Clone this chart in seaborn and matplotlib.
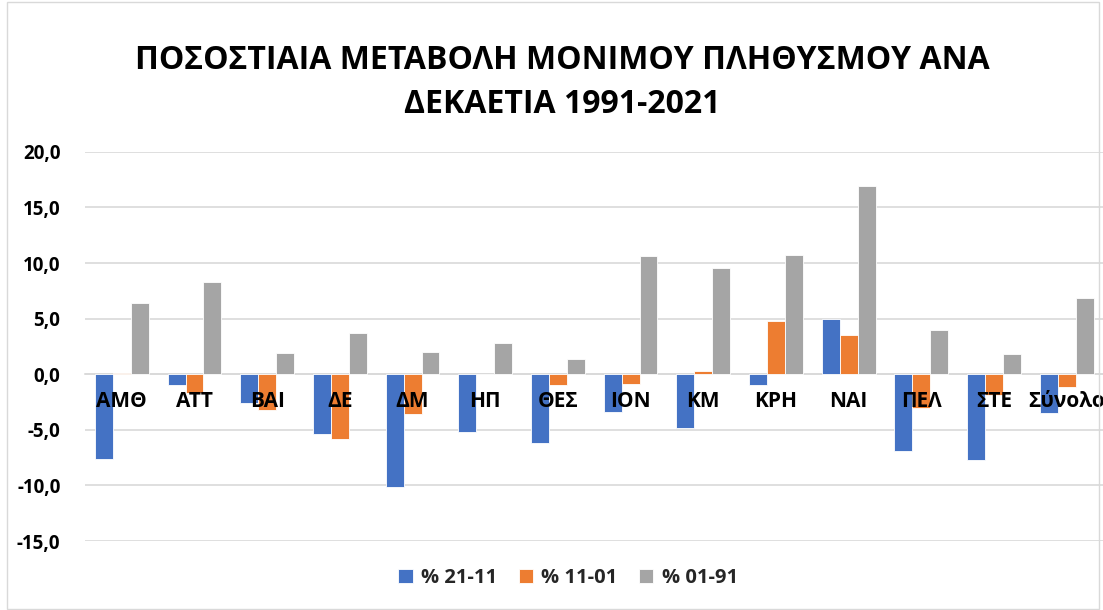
import matplotlib
matplotlib.use("Agg")
import matplotlib.pyplot as plt
import seaborn as sns
import pandas as pd
from matplotlib.ticker import FuncFormatter, MultipleLocator
from matplotlib.patches import Rectangle

categories = ["ΑΜΘ", "ΑΤΤ", "ΒΑΙ", "ΔΕ", "ΔΜ", "ΗΠ", "ΘΕΣ", "ΙΟΝ", "ΚΜ", "ΚΡΗ", "ΝΑΙ", "ΠΕΛ", "ΣΤΕ", "Σύνολο"]
series_names = ["% 21-11", "% 11-01", "% 01-91"]
s_21_11 = [-7.6, -1.0, -2.6, -5.4, -10.1, -5.2, -6.2, -3.4, -4.8, -1.0, 5.0, -6.9, -7.7, -3.5]
s_11_01 = [0.1, -1.7, -3.2, -5.8, -3.6, 0.05, -1.0, -0.9, 0.3, 4.8, 3.5, -3.0, -1.9, -1.1]
s_01_91 = [6.4, 8.3, 1.9, 3.7, 2.0, 2.8, 1.4, 10.6, 9.6, 10.7, 16.9, 4.0, 1.8, 6.9]
colors = ["#4472C4", "#ED7D31", "#A5A5A5"]
title = "ΠΟΣΟΣΤΙΑΙΑ ΜΕΤΑΒΟΛΗ ΜΟΝΙΜΟΥ ΠΛΗΘΥΣΜΟΥ ΑΝΑ\nΔΕΚΑΕΤΙΑ 1991-2021"

rows = []
for name, vals in zip(series_names, [s_21_11, s_11_01, s_01_91]):
    for c, v in zip(categories, vals):
        rows.append({"cat": c, "series": name, "value": v})
df = pd.DataFrame(rows)

sns.set_theme(style="white")
plt.rcParams['font.family'] = ['Open Sans', 'DejaVu Sans']

fig = plt.figure(figsize=(11.03, 6.10), dpi=100)
ax = fig.add_axes([0.0775, 0.113, 0.9225, 0.638])

sns.barplot(data=df, x="cat", y="value", hue="series", order=categories,
            hue_order=series_names, palette=colors, width=0.74, ax=ax,
            edgecolor="white", linewidth=0.6, saturation=1, errorbar=None)

ax.set_ylim(-15, 20)
ax.set_xlim(-0.5, len(categories) - 0.5)
ax.yaxis.set_major_locator(MultipleLocator(5))
ax.yaxis.set_major_formatter(FuncFormatter(lambda v, p: f"{v:.1f}".replace(".", ",")))
ax.grid(axis="y", color="#d9d9d9", linewidth=1.2)
ax.set_axisbelow(True)
ax.xaxis.set_zorder(5)
for s in ["left", "right", "top"]:
    ax.spines[s].set_visible(False)
ax.spines["bottom"].set_position(("data", 0))
ax.spines["bottom"].set_color("#d9d9d9")
ax.spines["bottom"].set_linewidth(1.2)
ax.spines["bottom"].set_zorder(0.5)
ax.tick_params(axis="x", length=0, pad=12, labelsize=15)
ax.tick_params(axis="y", length=0, pad=18, labelsize=13.5)
for lab in ax.get_xticklabels() + ax.get_yticklabels():
    lab.set_fontweight("bold")
    lab.set_color("black")
ax.set_xlabel("")
ax.set_ylabel("")

handles, labels = ax.get_legend_handles_labels()
if ax.legend_:
    ax.legend_.remove()
fig.legend(handles, labels, loc="center", bbox_to_anchor=(0.515, 0.052), ncol=3,
           frameon=False, handlelength=0.7, handleheight=0.7, handletextpad=0.4,
           columnspacing=1.1, prop={"weight": "bold", "size": 14.5})

fig.text(0.51, 0.865, title, ha="center", va="center", fontsize=23,
         fontweight="bold", linespacing=1.45, color="black")

fig.patches.append(Rectangle((0.006, 0.002), 0.99, 0.995, transform=fig.transFigure,
                             fill=False, edgecolor="#d9d9d9", linewidth=1))

fig.savefig("out.png", dpi=100)
